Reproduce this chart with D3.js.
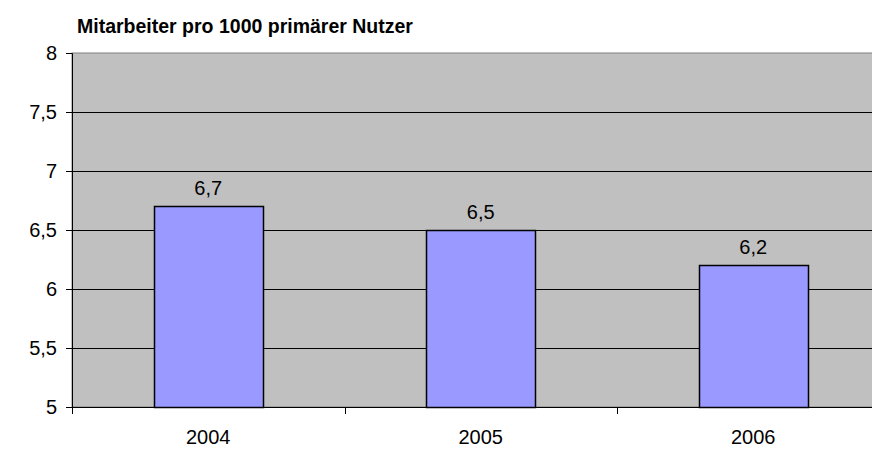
<!DOCTYPE html>
<html>
<head>
<meta charset="utf-8">
<script src="https://cdn.jsdelivr.net/npm/d3@7"></script>
<style>
  body { margin: 0; background: #fff; }
  svg text { font-family: "Liberation Sans", Arial, sans-serif; fill: #000; }
</style>
</head>
<body>
<svg width="872" height="453"></svg>
<script>
const years = ['2004', '2005', '2006']
const values = [6.7, 6.5, 6.2]
const yTicks = [5, 5.5, 6, 6.5, 7, 7.5, 8]
const title = 'Mitarbeiter pro 1000 primärer Nutzer'

const svg = d3.select('svg')
const margin = {top: 53, left: 72}
const plotW = 817.5
const plotH = 354

const fmt = v => String(v).replace('.', ',')

const xScale = d3.scaleBand()
  .domain(years)
  .range([0, plotW])
  .paddingInner(0.6)
  .paddingOuter(0.3)

const yScale = d3.scaleLinear()
  .domain([5, 8])
  .range([plotH, 0])

svg.append('text')
  .attr('x', 77)
  .attr('y', 33)
  .style('font-size', '19.5px')
  .style('font-weight', 'bold')
  .text(title)

const g = svg.append('g')
  .attr('transform', `translate(${margin.left}, ${margin.top})`)

// plot background
g.append('rect')
  .attr('width', plotW)
  .attr('height', plotH)
  .attr('fill', '#c0c0c0')
  .attr('stroke', '#808080')

// gridlines
g.selectAll('.grid').data(yTicks.filter(t => t > 5 && t < 8))
  .enter().append('line')
  .attr('x1', 0).attr('x2', plotW)
  .attr('y1', d => Math.round(yScale(d)) + 0.5)
  .attr('y2', d => Math.round(yScale(d)) + 0.5)
  .attr('stroke', '#000')

// bars
g.selectAll('.bar').data(values)
  .enter().append('rect')
  .attr('x', (d, i) => Math.round(xScale(years[i])) + 0.5)
  .attr('y', d => Math.round(yScale(d)) + 0.5)
  .attr('width', xScale.bandwidth())
  .attr('height', d => Math.round(yScale(5)) - Math.round(yScale(d)))
  .attr('fill', '#9999ff')
  .attr('stroke', '#000')
  .attr('stroke-width', 1.5)

// value labels
g.selectAll('.lbl').data(values)
  .enter().append('text')
  .attr('x', (d, i) => xScale(years[i]) + xScale.bandwidth() / 2)
  .attr('y', d => yScale(d) - 11)
  .attr('text-anchor', 'middle')
  .style('font-size', '20px')
  .text(d => fmt(d))

// y axis
const yAxis = d3.axisLeft(yScale)
  .tickValues(yTicks)
  .tickSize(6)
  .tickPadding(9)
  .tickFormat(fmt)
const ya = g.append('g').call(yAxis)
ya.select('.domain').attr('stroke', '#000')
ya.selectAll('text').style('font-size', '20px').attr('fill', '#000')

// x axis
const step = xScale.step()
g.append('line')
  .attr('x1', 0).attr('x2', plotW)
  .attr('y1', plotH + 0.5).attr('y2', plotH + 0.5)
  .attr('stroke', '#000')
g.selectAll('.xtick').data(years)
  .enter().append('line')
  .attr('x1', d => Math.round(xScale(d) - step * 0.3) + 0.5)
  .attr('x2', d => Math.round(xScale(d) - step * 0.3) + 0.5)
  .attr('y1', plotH).attr('y2', plotH + 7)
  .attr('stroke', '#000')
g.selectAll('.xlbl').data(years)
  .enter().append('text')
  .attr('x', d => xScale(d) + xScale.bandwidth() / 2)
  .attr('y', plotH + 37)
  .attr('text-anchor', 'middle')
  .style('font-size', '20px')
  .text(d => d)
</script>
</body>
</html>
